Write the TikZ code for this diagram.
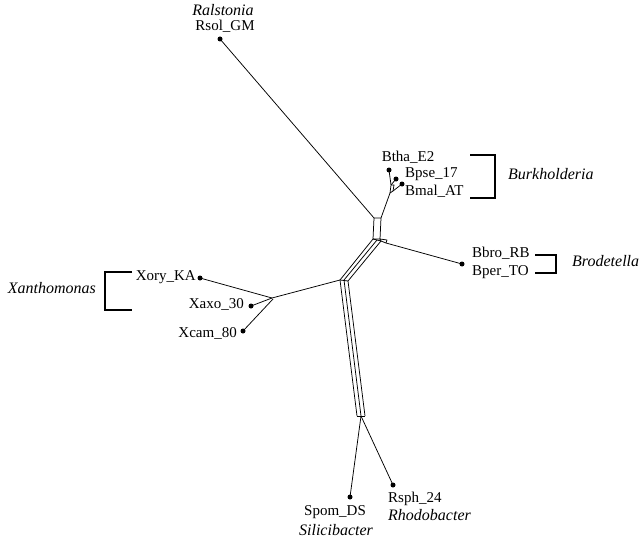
\documentclass[tikz,border=0pt]{standalone}
\usepackage{fontspec}
\setmainfont{Liberation Serif}
\begin{document}
\begin{tikzpicture}[x=1pt,y=-1pt,
  dot/.style={circle,fill=black,inner sep=0pt,minimum size=5pt},
  lab/.style={font=\fontsize{15}{15}\selectfont,inner sep=0pt},
  genus/.style={font=\fontsize{16}{16}\selectfont\itshape,inner sep=0pt},
  edge/.style={line width=0.75pt,line join=round},
  brk/.style={line width=1.8pt}]
\useasboundingbox (0,0) rectangle (644,540);
% leaves
\node[dot] (rsol) at (220,39) {};
\node[dot] (btha) at (389,170) {};
\node[dot] (bpse) at (396,179) {};
\node[dot] (bmal) at (402,184) {};
\node[dot] (bbro) at (462,264) {};
\node[dot] (xory) at (200,278) {};
\node[dot] (xaxo) at (251,306) {};
\node[dot] (xcam) at (243,331) {};
\node[dot] (spom) at (350,497) {};
\node[dot] (rsph) at (393,485) {};
% internal points
\coordinate (tl) at (374,218);
\coordinate (tr) at (381,218);
\coordinate (bl) at (373,239);
\coordinate (br) at (380,239);
\coordinate (bj1) at (390,193);
\coordinate (bj2) at (391,185);
\coordinate (bj3) at (393,191);
\coordinate (bj4) at (394,185);
\coordinate (s2) at (377,240);
\coordinate (s3) at (381,241);
\coordinate (s4) at (387,240);
\coordinate (bst) at (386,243);
\coordinate (c1) at (340,280);
\coordinate (c2) at (344,280);
\coordinate (c3) at (348,281);
\coordinate (e1) at (357,416);
\coordinate (e2) at (361,416);
\coordinate (e3) at (365,416);
\coordinate (bot) at (361,416);
\coordinate (xj) at (272,298);
\coordinate (xj2) at (273,299);
% edges
\draw[edge] (rsol.center) -- (tl);
\draw[edge] (tr) -- (bj1) -- (bj2) -- (btha.center);
\draw[edge] (bj2) -- (bpse.center);
\draw[edge] (bj1) -- (bj3) -- (bmal.center);
\draw[edge] (bj3) -- (bj4) -- (bj2);
\draw[edge] (tl) -- (tr) -- (br) -- (bl) -- cycle;
\draw[edge] (bl) -- (s2) -- (s3) -- (bst);
\draw[edge] (br) -- (s4) -- (bst);
\draw[edge] (br) -- (s3);
\draw[edge] (bl) -- (c1) -- (e1);
\draw[edge] (s2) -- (c2) -- (e2);
\draw[edge] (s3) -- (c3) -- (e3);
\draw[edge] (c1) -- (c3);
\draw[edge] (e1) -- (e3);
\draw[edge] (bst) -- (bbro.center);
\draw[edge] (bot) -- (spom.center);
\draw[edge] (bot) -- (rsph.center);
\draw[edge] (c1) -- (xj) -- (xory.center);
\draw[edge] (xj) -- (xaxo.center);
\draw[edge] (xj2) -- (xcam.center);
% labels
\node[genus] (gral) at (223,10) {Ralstonia};
\node[lab] (trsol) at (225,26) {Rsol\_GM};
\node[lab] (tbtha) at (408,157) {Btha\_E2};
\node[lab,anchor=mid west] (tbpse) at (405,175) {Bpse\_17};
\node[lab,anchor=mid west] (tbmal) at (405,193) {Bmal\_AT};
\node[genus,anchor=mid west] (gbur) at (508,177) {Burkholderia};
\node[lab,anchor=mid west] (tbbro) at (472,255) {Bbro\_RB};
\node[lab,anchor=mid west] (tbper) at (472,273) {Bper\_TO};
\node[genus,anchor=mid west] (gbro) at (572,264) {Brodetella};
\node[lab,anchor=mid east] (txory) at (196,278) {Xory\_KA};
\node[lab,anchor=mid east] (txaxo) at (244,306) {Xaxo\_30};
\node[lab,anchor=mid east] (txcam) at (237,335) {Xcam\_80};
\node[genus,anchor=mid east] (gxan) at (96,291) {Xanthomonas};
\node[lab] (tspom) at (335,512) {Spom\_DS};
\node[genus] (gsil) at (336,530) {Silicibacter};
\node[lab,anchor=mid west] (trsph) at (388,500) {Rsph\_24};
\node[genus,anchor=mid west] (grho) at (388,518) {Rhodobacter};
% brackets
\draw[brk] (470,155) -- (495,155) -- (495,198) -- (470,198);
\draw[brk] (535,255) -- (556,255) -- (556,273) -- (535,273);
\draw[brk] (132,272) -- (105,272) -- (105,310) -- (132,310);
\end{tikzpicture}
\end{document}
